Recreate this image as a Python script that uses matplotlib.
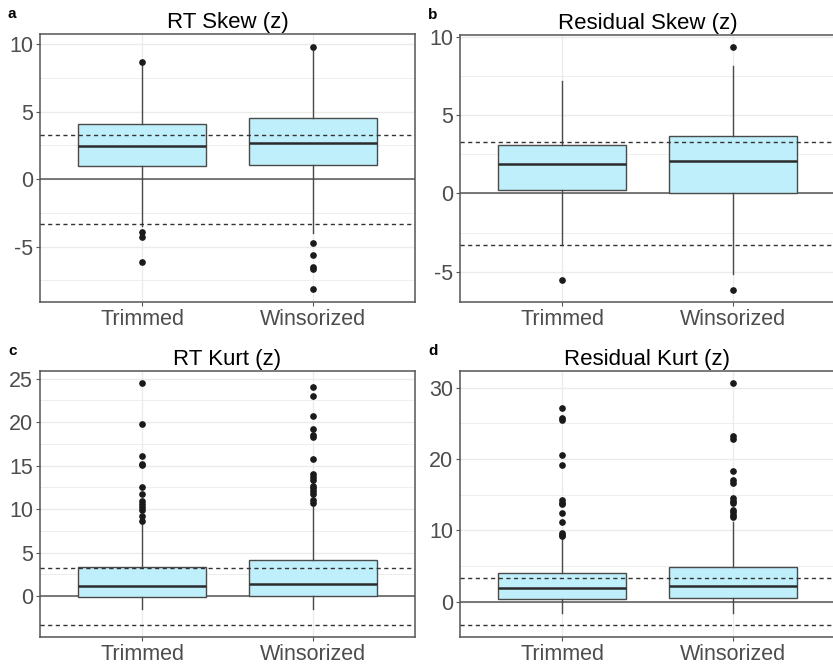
import matplotlib
matplotlib.use("Agg")
import matplotlib.pyplot as plt
import numpy as np

plt.rcParams["font.family"] = ["Liberation Sans", "DejaVu Sans"]
plt.rcParams["axes.unicode_minus"] = False

# Groups on the x axis
categories = ["Trimmed", "Winsorized"]

# Box statistics per group: [lower whisker, Q1, median, Q3, upper whisker]
rt_skew_stats = [[-3.5, 1.0, 2.47, 4.07, 8.6],
                 [-3.95, 1.08, 2.67, 4.54, 9.8]]
rt_skew_out = [[8.7, -3.88, -4.3, -6.17],
               [9.82, -4.74, -5.6, -6.47, -6.67, -8.15]]

res_skew_stats = [[-3.31, 0.21, 1.86, 3.1, 7.22],
                  [-5.13, 0.06, 2.09, 3.65, 8.18]]
res_skew_out = [[-5.56],
                [9.4, -6.15]]

rt_kurt_stats = [[-1.41, -0.05, 1.15, 3.37, 8.35],
                 [-1.41, 0.0, 1.38, 4.13, 10.4]]
rt_kurt_out = [[24.5, 19.8, 16.1, 15.2, 15.1, 12.5, 11.7, 10.9, 10.6, 10.25,
                9.87, 9.26, 8.6],
               [24.0, 23.0, 20.7, 19.2, 18.5, 18.3, 15.8, 14.0, 13.7, 13.4,
                12.7, 12.4, 12.05, 11.8, 11.0, 10.7]]

res_kurt_stats = [[-1.54, 0.33, 1.96, 4.06, 8.9],
                  [-1.54, 0.56, 2.24, 4.9, 11.2]]
res_kurt_out = [[27.1, 25.8, 25.5, 20.6, 19.1, 14.2, 13.9, 13.7, 12.5, 11.2,
                 9.7, 9.4, 9.2],
                [30.7, 23.2, 22.8, 18.35, 17.0, 16.7, 14.6, 14.1, 13.9, 12.9,
                 12.6, 12.2, 11.9]]

panel_titles = ["RT Skew (z)", "Residual Skew (z)", "RT Kurt (z)", "Residual Kurt (z)"]
panel_letters = ["a", "b", "c", "d"]
y_limits = [(-9.1, 10.76), (-6.95, 10.15), (-4.68, 25.87), (-4.95, 32.35)]
y_major = [[-5, 0, 5, 10], [-5, 0, 5, 10], [0, 5, 10, 15, 20, 25], [0, 10, 20, 30]]
y_minor = [[-7.5, -2.5, 2.5, 7.5], [-2.5, 2.5, 7.5], [2.5, 7.5, 12.5, 17.5, 22.5],
           [5, 15, 25]]
critical_z = 3.29

FILL = "#bfeffa"
EDGE = "#4a4a4a"
GRID = "#ebebeb"
TEXT = "#4d4d4d"

W, H = 833, 667
fig = plt.figure(figsize=(W / 100, H / 100), dpi=100)
fig.patch.set_facecolor("white")


def px_axes(left, top, right, bottom):
    return fig.add_axes([left / W, 1 - bottom / H, (right - left) / W, (bottom - top) / H])


axes_px = [(40, 34, 415, 302), (460, 35, 835, 302),
           (40, 371, 415, 637), (460, 371, 835, 637)]

all_stats = [rt_skew_stats, res_skew_stats, rt_kurt_stats, res_kurt_stats]
all_out = [rt_skew_out, res_skew_out, rt_kurt_out, res_kurt_out]

for i in range(4):
    ax = px_axes(*axes_px[i])
    stats = []
    for j, cat in enumerate(categories):
        lo, q1, med, q3, hi = all_stats[i][j]
        stats.append(dict(label=cat, whislo=lo, q1=q1, med=med, q3=q3,
                          whishi=hi, fliers=all_out[i][j]))

    # Gridlines (major + minor) in the theme_bw style
    for y in y_major[i]:
        ax.axhline(y, color=GRID, lw=1.0, zorder=0)
    for y in y_minor[i]:
        ax.axhline(y, color=GRID, lw=0.6, zorder=0)
    for x in [1, 2]:
        ax.axvline(x, color=GRID, lw=1.0, zorder=0)

    # Reference lines: zero and the +/- 3.29 critical values
    ax.axhline(0, color="#555555", lw=1.1, zorder=1)
    ax.axhline(critical_z, color="#333333", lw=1.0, ls=(0, (3, 2.5)), zorder=4)
    ax.axhline(-critical_z, color="#333333", lw=1.0, ls=(0, (3, 2.5)), zorder=4)

    ax.bxp(stats, positions=[1, 2], widths=0.75, patch_artist=True,
           showcaps=False, zorder=2,
           boxprops=dict(facecolor=FILL, edgecolor=EDGE, linewidth=1.0),
           whiskerprops=dict(color=EDGE, linewidth=1.0),
           medianprops=dict(color="#2b2b2b", linewidth=1.8),
           flierprops=dict(marker="o", markerfacecolor="#1a1a1a",
                           markeredgecolor="#1a1a1a", markersize=3.8))

    ax.set_xlim(0.4, 2.6)
    ax.set_ylim(*y_limits[i])
    ax.set_yticks(y_major[i])
    ax.set_xticks([1, 2])
    ax.set_xticklabels(categories)
    ax.tick_params(axis="both", colors="#555555", labelcolor=TEXT,
                   labelsize=15.5, length=3, width=0.8, pad=2)
    for s in ax.spines.values():
        s.set_color("#555555")
        s.set_linewidth(1.1)

    ax.set_title(panel_titles[i], fontsize=16, color="black", pad=4)
    top = axes_px[i][1]
    lx = 8 if i % 2 == 0 else 428
    fig.text(lx / W, 1 - (top - 20) / H, panel_letters[i], fontsize=11,
             fontweight="bold", ha="left", va="center")

fig.savefig("out.png", dpi=100)
